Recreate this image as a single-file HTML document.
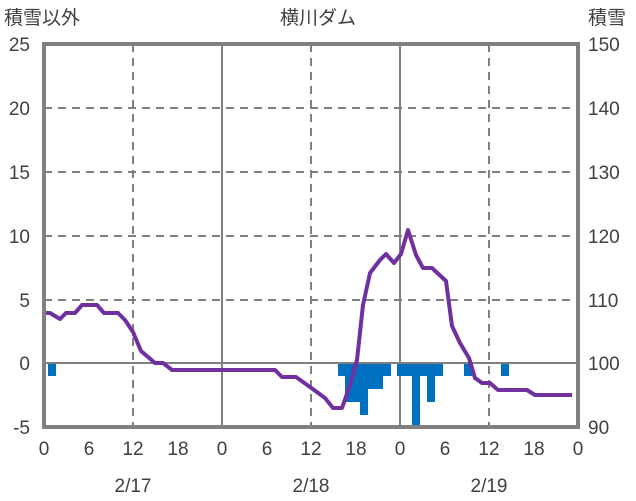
<!DOCTYPE html>
<html><head><meta charset="utf-8"><style>body{margin:0;background:#fff}svg{display:block}text{font-family:"Liberation Sans","Noto Sans CJK JP",sans-serif;fill:#404040;font-size:19px}</style></head><body>
<svg width="636" height="501" viewBox="0 0 636 501">
<g stroke="#808080" stroke-width="2" stroke-dasharray="8,6">
<line x1="44" y1="108" x2="578" y2="108"/><line x1="44" y1="172" x2="578" y2="172"/><line x1="44" y1="236" x2="578" y2="236"/><line x1="44" y1="300" x2="578" y2="300"/>
<line x1="133" y1="44" x2="133" y2="427"/><line x1="311" y1="44" x2="311" y2="427"/><line x1="489" y1="44" x2="489" y2="427"/>
</g>
<g stroke="#808080" stroke-width="2"><line x1="222" y1="44" x2="222" y2="427"/><line x1="400" y1="44" x2="400" y2="427"/><line x1="44" y1="363" x2="578" y2="363"/></g>
<g fill="#0070C0">
<rect x="48" y="364" width="8" height="12"/>
<rect x="338" y="364" width="53" height="12"/>
<rect x="345" y="364" width="38" height="25"/>
<rect x="345" y="364" width="23" height="38"/>
<rect x="360" y="364" width="8" height="51"/>
<rect x="397" y="364" width="46" height="12"/>
<rect x="412" y="364" width="8" height="63"/>
<rect x="427" y="364" width="8" height="38"/>
<rect x="464" y="364" width="8" height="12"/>
<rect x="501" y="364" width="8" height="12"/>
</g>
<polyline fill="none" stroke="#7030A0" stroke-width="4" stroke-linejoin="round" points="44,313 50,313 60,319 66,313 75,313 82,305 97,305 104,313 118,313 125,320 133,332 141,351 155,363 163,363 172,370 275,370 282,377 296,377 310,387 325,398 333,408 342,408 350,385 357,360 363,305 370,273 380,260 386,254 394,263 401,254 408,230 416,255 423,268 432,268 446,281 452,326 460,343 469,358 475,378 482,383 490,383 498,390 527,390 535,395 572,395"/>
<rect x="44" y="44" width="534" height="383" fill="none" stroke="#808080" stroke-width="4"/>
<g text-anchor="end"><text x="30" y="51">25</text><text x="30" y="115">20</text><text x="30" y="179">15</text><text x="30" y="243">10</text><text x="30" y="307">5</text><text x="30" y="370">0</text><text x="30" y="434">-5</text></g>
<g><text x="588" y="51">150</text><text x="588" y="115">140</text><text x="588" y="179">130</text><text x="588" y="243">120</text><text x="588" y="307">110</text><text x="588" y="370">100</text><text x="588" y="434">90</text></g>
<g text-anchor="middle"><text x="44" y="455">0</text><text x="89" y="455">6</text><text x="133" y="455">12</text><text x="178" y="455">18</text><text x="222" y="455">0</text><text x="267" y="455">6</text><text x="311" y="455">12</text><text x="356" y="455">18</text><text x="400" y="455">0</text><text x="445" y="455">6</text><text x="489" y="455">12</text><text x="534" y="455">18</text><text x="578" y="455">0</text>
<text x="133" y="492">2/17</text><text x="311" y="492">2/18</text><text x="489" y="492">2/19</text>
<text x="318" y="24">横川ダム</text></g>
<text x="4" y="24">積雪以外</text><text x="588" y="24">積雪</text>
</svg></body></html>
